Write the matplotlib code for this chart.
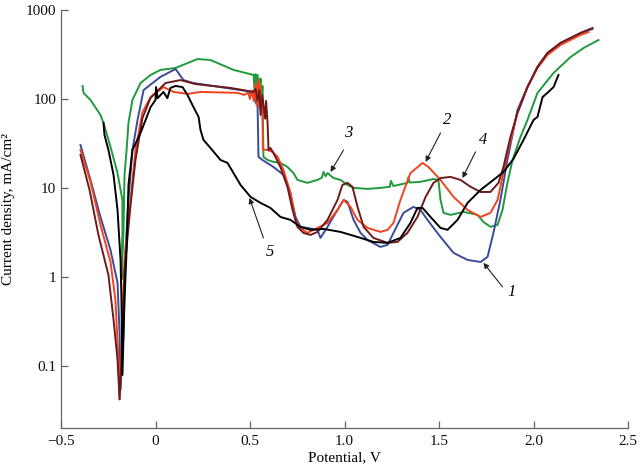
import matplotlib
matplotlib.use("Agg")
import matplotlib.pyplot as plt
from matplotlib.ticker import FixedLocator, FixedFormatter, NullLocator

plt.rcParams['font.family'] = ['Liberation Serif', 'DejaVu Serif']

# ---- data (potential V, current density mA/cm2) ----
c1_x = [-0.397, -0.344, -0.291, -0.238, -0.201, -0.190, -0.185, -0.169, -0.159, -0.143, -0.122, -0.095, -0.063,
        0.026, 0.106, 0.148, 0.201, 0.48, 0.50, 0.52, 0.53, 0.535, 0.54, 0.545, 0.566, 0.624, 0.677, 0.714, 0.741,
        0.767, 0.804, 0.857,
        0.873, 0.910, 0.963, 0.995, 1.016, 1.048, 1.085, 1.122, 1.190, 1.228, 1.259, 1.312, 1.365, 1.402, 1.439,
        1.508, 1.577, 1.651, 1.720, 1.757, 1.788, 1.825, 1.862, 1.915, 1.968, 2.021, 2.074, 2.143, 2.249, 2.312]
c1_y = [30.4, 12.3, 4.7, 2.0, 0.86, 0.235, 0.054, 0.25, 2.0, 7.3, 26.7, 58, 126,
        177, 217, 163, 151, 123, 116, 120, 90, 115, 85, 22.3, 20.6, 17.2, 14.0, 8.8, 4.7,
        3.65, 3.55, 3.38,
        2.74, 3.65, 5.66, 7.33, 6.97, 4.37, 3.12, 2.6, 2.17, 2.29, 3.12, 5.24, 6.12, 5.66, 4.37,
        2.81, 1.86, 1.55, 1.47, 1.68, 3.12, 7.33, 20.6, 75, 136, 229, 329, 426, 552, 612]

c2_x = [-0.397, -0.344, -0.291, -0.238, -0.212, -0.196, -0.190, -0.180, -0.164, -0.132, -0.106, -0.069, -0.026,
        0.042, 0.095, 0.169, 0.238, 0.434, 0.47, 0.49, 0.50, 0.51, 0.52, 0.53, 0.535, 0.545, 0.55, 0.555, 0.56,
        0.565, 0.568, 0.593, 0.619, 0.646, 0.677,
        0.714, 0.741, 0.767, 0.804, 0.857, 0.910, 0.963, 0.995, 1.032, 1.069, 1.122, 1.190, 1.228, 1.259, 1.296,
        1.349, 1.413, 1.444, 1.508, 1.577, 1.651, 1.720, 1.772, 1.810, 1.836, 1.862, 1.915, 1.968, 2.021, 2.074,
        2.143, 2.249, 2.291]
c2_y = [26.7, 11.7, 3.84, 1.47, 0.55, 0.117, 0.042, 0.151, 1.55, 7.3, 26.7, 71, 105,
        136, 120, 114, 120, 117, 111, 118, 100, 125, 95, 150, 85, 165, 80, 140, 70,
        100, 27, 26.7, 25.4, 22.3, 15.9,
        8.8, 4.37, 3.55, 3.12, 3.55, 4.04, 5.66, 7.33, 6.12, 4.37, 3.55, 3.2, 3.38, 4.04, 7.33,
        14.7, 19.1, 17.2, 12.3, 7.92, 5.66, 4.72, 5.24, 7.33, 13.3, 24.7, 69.6, 136, 223, 312,
        404, 524, 566]

c3_x = [-0.386, -0.381, -0.344, -0.291, -0.275, -0.238, -0.201, -0.175, -0.175, -0.180, -0.180, -0.169, -0.164,
        -0.153, -0.143, -0.122, -0.079, -0.026, 0.026, 0.106, 0.222, 0.291, 0.413, 0.519, 0.525, 0.529, 0.535,
        0.540, 0.55, 0.556, 0.562, 0.566,
        0.571, 0.593, 0.624, 0.661, 0.698, 0.730, 0.751, 0.804, 0.857, 0.880, 0.889, 0.900, 0.910, 0.942,
        0.979, 1.016, 1.048, 1.122, 1.190, 1.240, 1.245, 1.259, 1.333, 1.338, 1.345, 1.402, 1.471, 1.497, 1.508,
        1.524, 1.561, 1.630, 1.704, 1.735, 1.772, 1.810, 1.836, 1.862, 1.889, 1.931, 1.968, 2.021, 2.106, 2.196,
        2.265, 2.344]
c3_y = [140, 117, 97.5, 66, 53.7, 28.9, 14.7, 7.3, 3.1, 1.2, 0.93, 3.38, 14,
        26.7, 53.7, 97.5, 151, 186, 212, 223, 281, 274, 212, 186, 120, 190, 100,
        186, 130, 170, 97, 140,
        22.3, 20.6, 19.6, 19.1, 17.2, 14.7, 12.3, 11.4, 12.3, 13.0, 15.1, 13.5, 14.7, 12.9,
        12.3, 10.8, 10.0, 9.75, 10.0, 10.3, 12.0, 10.5, 11.4, 13.2, 11.5, 11.7, 12.6, 12.3, 7.33,
        5.24, 4.98, 5.37, 4.98, 4.15, 3.65, 3.84, 5.66, 11.4, 20.6, 37.4, 58, 117, 196, 296,
        374, 460]

c4_x = [-0.397, -0.349, -0.302, -0.249, -0.222, -0.201, -0.190, -0.180, -0.164, -0.132, -0.106, -0.069, -0.026,
        0.053, 0.132, 0.212, 0.397, 0.519, 0.53, 0.54, 0.55, 0.556, 0.565, 0.58, 0.585, 0.593, 0.598, 0.608,
        0.624, 0.661, 0.698, 0.725,
        0.751, 0.783, 0.820, 0.857, 0.910, 0.963, 0.989, 1.016, 1.042, 1.069, 1.101, 1.153, 1.228, 1.280, 1.333,
        1.386, 1.429, 1.471, 1.508, 1.561, 1.614, 1.667, 1.720, 1.772, 1.815, 1.841, 1.878, 1.915, 1.968, 2.021,
        2.074, 2.143, 2.249, 2.312]
c4_y = [23.5, 9.5, 2.96, 1.05, 0.33, 0.117, 0.042, 0.117, 1.2, 6.44, 20.6, 61, 103,
        151, 163, 147, 133, 120, 130, 95, 126, 66, 111, 60, 95, 53.7, 26.7, 28.1,
        24.7, 17.2, 10.3, 5.66,
        3.65, 3.12, 2.96, 3.2, 4.37, 7.33, 10.8, 11.4, 10.3, 6.12, 3.65, 2.74, 2.41, 2.47, 3.12,
        4.72, 7.92, 11.4, 12.9, 13.3, 12.3, 10.3, 9.0, 9.0, 11.4, 17.2, 37.4, 69.6, 136, 229,
        329, 426, 552, 628]

c5_x = [-0.275, -0.270, -0.249, -0.222, -0.201, -0.185, -0.180, -0.175, -0.164, -0.153, -0.143, -0.122, -0.079,
        -0.026, 0.0, 0.003, 0.011, 0.042, 0.063, 0.079, 0.106, 0.143, 0.169, 0.201, 0.228, 0.238, 0.254, 0.291,
        0.344, 0.381, 0.450, 0.503, 0.556, 0.608, 0.661, 0.714, 0.767, 0.820, 0.889, 0.979, 1.069, 1.153, 1.228,
        1.296, 1.349, 1.386, 1.413, 1.455, 1.508, 1.545, 1.598, 1.651, 1.720, 1.788, 1.841, 1.894, 1.947, 2.000,
        2.021, 2.048, 2.079, 2.106, 2.132]
c5_y = [53.7, 39.4, 26.7, 14.0, 5.66, 1.55, 0.55, 0.079, 0.55, 2.0, 10.9, 26.7, 41.5,
        81, 97.5, 136, 102, 120, 102, 133, 140, 136, 111, 81, 62.8, 44.9, 34.6, 28.1,
        20.6, 19.1, 10.8, 7.92, 6.78, 5.96, 4.72, 4.37, 3.65, 3.38, 3.46, 3.2, 2.81, 2.47, 2.41,
        2.74, 4.04, 5.96, 5.96, 4.72, 3.55, 3.38, 4.37, 6.78, 9.5, 12.3, 15.1, 21.2, 34.6, 58,
        62.8, 105, 120, 136, 186]

curve_labels = ['1', '2', '3', '4', '5']
label_text_xy = [(1.884, 0.678), (1.545, 58), (1.021, 41.5), (1.735, 34.6), (0.608, 1.91)]
label_tail_xy = [(1.836, 0.772), (1.508, 41.5), (0.995, 26.7), (1.693, 25.4), (0.571, 2.74)]
label_head_xy = [(1.735, 1.44), (1.429, 19.6), (0.926, 15.1), (1.624, 12.9), (0.497, 7.72)]

x_ticks = [-0.5, 0, 0.5, 1.0, 1.5, 2.0, 2.5]
x_ticklabels = ['\u22120.5', '0', '0.5', '1.0', '1.5', '2.0', '2.5']
y_ticks = [0.1, 1, 10, 100, 1000]
y_ticklabels = ['0.1', '1', '10', '100', '1000']

colors = ['#3b4b9b', '#f2431f', '#1f9a3c', '#6e1a1c', '#000000']

fig = plt.figure(figsize=(6.42, 4.75), dpi=100)
ax = fig.add_axes([61/642, 47/475, 567/642, 418/475])

series = [(c1_x, c1_y), (c2_x, c2_y), (c3_x, c3_y), (c4_x, c4_y), (c5_x, c5_y)]
order = [2, 0, 1, 3, 4]
for i in order:
    xs, ys = series[i]
    ax.plot(xs, ys, color=colors[i], lw=1.4, solid_joinstyle='round')

ax.set_yscale('log')
ax.set_xlim(-0.5, 2.5)
ax.set_ylim(0.02, 1000)

ax.xaxis.set_major_locator(FixedLocator(x_ticks))
ax.xaxis.set_major_formatter(FixedFormatter(x_ticklabels))
ax.yaxis.set_major_locator(FixedLocator(y_ticks))
ax.yaxis.set_major_formatter(FixedFormatter(y_ticklabels))
ax.yaxis.set_minor_locator(NullLocator())
ax.xaxis.set_minor_locator(NullLocator())

for s in ['top', 'right']:
    ax.spines[s].set_visible(False)
for s in ['left', 'bottom']:
    ax.spines[s].set_color('#666666')
    ax.spines[s].set_linewidth(0.9)
ax.tick_params(direction='in', length=5, width=0.9, color='#666666', labelsize=11, labelcolor='#111111')
ax.tick_params(axis='x', pad=5)

ax.set_xlabel('Potential, V', fontsize=11, labelpad=2)
ax.set_ylabel('Current density, mA/cm\u00b2', fontsize=11)
ax.yaxis.set_label_coords(-0.082, 0.525)

for lab, txy, tail, head in zip(curve_labels, label_text_xy, label_tail_xy, label_head_xy):
    ax.annotate('', xy=head, xytext=tail,
                arrowprops=dict(arrowstyle='-|>', color='#222222', lw=0.8,
                                mutation_scale=8, shrinkA=0, shrinkB=0))
    ax.text(txy[0], txy[1], lab, fontsize=12, fontstyle='italic', ha='center', va='center')

fig.savefig('out.png', dpi=100)
